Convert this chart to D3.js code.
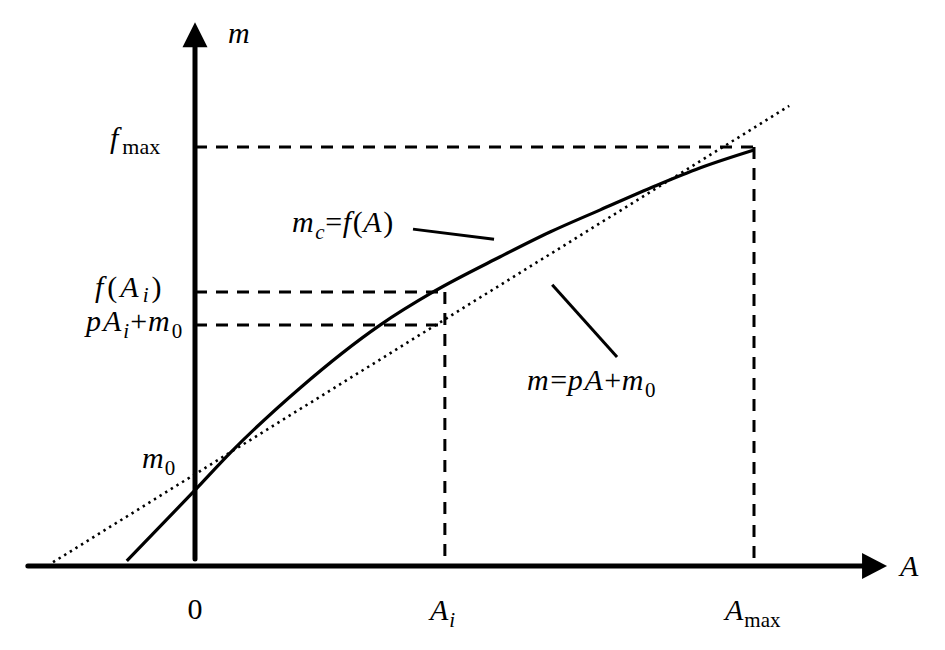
<!DOCTYPE html>
<html>
<head>
<meta charset="utf-8">
<script src="https://cdn.jsdelivr.net/npm/d3@7"></script>
<style>
  html, body { margin: 0; padding: 0; background: #fff; }
  svg { display: block; }
</style>
</head>
<body>
<svg id="chart" width="945" height="650"></svg>
<script>
// ---- data (in A / m units) ----
const curveA = [-1.22, 0, 0.63, 1.88, 3.31, 4.26, 5.46, 6.35, 7.25, 8.23, 9.03, 10];
const curveM = [0.12, 1.81, 2.70, 4.25, 5.75, 6.54, 7.38, 7.97, 8.50, 9.07, 9.50, 9.93];
const lineA = [-2.54, 10.63];
const lineM = [0.09, 10.98];
const markA = [4.47, 10];          // A_i, A_max
const markM = [6.54, 5.75, 10];    // f(A_i), pA_i+m0, f_max
const m0 = 2.19;
const axisA = [-2.99, 12.38];      // x axis extent (arrow tip at end)
const axisM = [0.17, 12.98];       // y axis extent (arrow tip at end)

const svg = d3.select("#chart");
const x = d3.scaleLinear().domain([0, 10]).range([195, 754]);
const y = d3.scaleLinear().domain([0, 10]).range([566, 147]);

// dashed guide lines
const dash = "12,9";
const g = svg.append("g");
[[markM[0], markA[0]], [markM[1], markA[0]], [markM[2], markA[1]]].forEach(([m, a]) => {
  g.append("line").attr("x1", x(0)).attr("x2", x(a)).attr("y1", y(m)).attr("y2", y(m))
    .attr("stroke", "#000").attr("stroke-width", 3).attr("stroke-dasharray", dash);
});
[[markA[0], markM[0]], [markA[1], markM[2]]].forEach(([a, m]) => {
  g.append("line").attr("x1", x(a)).attr("x2", x(a)).attr("y1", y(m)).attr("y2", y(0) - 6)
    .attr("stroke", "#000").attr("stroke-width", 3).attr("stroke-dasharray", dash);
});

// dotted linear line
svg.append("line")
  .attr("x1", x(lineA[0])).attr("y1", y(lineM[0]))
  .attr("x2", x(lineA[1])).attr("y2", y(lineM[1]))
  .attr("stroke", "#000").attr("stroke-width", 2.6).attr("stroke-dasharray", "2.4,4.2");

// curve
const pts = curveA.map((a, i) => [a, curveM[i]]);
svg.append("path")
  .attr("d", d3.line().x(d => x(d[0])).y(d => y(d[1])).curve(d3.curveMonotoneX)(pts))
  .attr("fill", "none").attr("stroke", "#000").attr("stroke-width", 3.2);

// axes
svg.append("line").attr("x1", x(axisA[0])).attr("x2", x(axisA[1]) - 20)
  .attr("y1", y(0)).attr("y2", y(0)).attr("stroke", "#000").attr("stroke-width", 5)
  .attr("stroke-linecap", "round");
svg.append("path")
  .attr("d", `M${x(axisA[1])},${y(0)} L${x(axisA[1]) - 25},${y(0) - 13} L${x(axisA[1]) - 25},${y(0) + 13} Z`)
  .attr("fill", "#000");
svg.append("line").attr("x1", x(0)).attr("x2", x(0))
  .attr("y1", y(axisM[0])).attr("y2", y(axisM[1]) + 20)
  .attr("stroke", "#000").attr("stroke-width", 5).attr("stroke-linecap", "round");
svg.append("path")
  .attr("d", `M${x(0)},${y(axisM[1])} L${x(0) - 12.5},${y(axisM[1]) + 25} L${x(0) + 12.5},${y(axisM[1]) + 25} Z`)
  .attr("fill", "#000");

// leader lines
const leaders = [
  [[3.9, 8.04], [5.35, 7.80]],
  [[6.39, 6.71], [7.55, 4.99]]
];
leaders.forEach(([p, q]) => {
  svg.append("line").attr("x1", x(p[0])).attr("y1", y(p[1])).attr("x2", x(q[0])).attr("y2", y(q[1]))
    .attr("stroke", "#000").attr("stroke-width", 3);
});

// labels: parts [text, italic, sub]; each part is its own <text>
const FS = 30, SFS = 21;
function label(px, py, parts, opts) {
  opts = opts || {};
  const drop = opts.drop || 7, gap = opts.gap || 0, sfs = opts.sfs || SFS;
  const grp = svg.append("g");
  let cx = 0;
  parts.forEach(([s, it, sub], k) => {
    const t = grp.append("text").attr("x", cx).attr("y", sub ? drop : 0)
      .attr("font-size", sub ? sfs : FS)
      .style("font-family", '"Liberation Serif"')
      .style("font-style", it ? "italic" : "normal")
      .attr("fill", "#000").text(s);
    let w = 0;
    try { w = t.node().getComputedTextLength(); } catch (e) { w = 0; }
    if (!w) w = s.length * (sub ? sfs : FS) * 0.5;
    cx += w + (it && !sub ? 1 : 0) + (k < parts.length - 1 ? gap : 0);
  });
  const off = opts.anchor === "middle" ? -cx / 2 : 0;
  grp.attr("transform", `translate(${px + off},${py})`);
  return grp;
}
label(228, 43, [["m", true]]);
label(110, 148, [["f", true], ["max", false, true]], { drop: 6, gap: 3, sfs: 22 });
label(95, 297, [["f", true], ["(", false], ["A", true], ["i", true, true], [")", false]], { drop: 5, gap: 3 });
label(86, 331, [["p", true], ["A", true], ["i", true, true], ["+", false], ["m", true], ["0", false, true]], { gap: 1 });
label(142, 468, [["m", true], ["0", false, true]]);
label(195, 619, [["0", false]], { anchor: "middle" });
label(430, 620, [["A", true], ["i", true, true]]);
label(725, 620, [["A", true], ["max", false, true]]);
label(900, 576, [["A", true]]);
label(292, 232, [["m", true], ["c", true, true], ["=", false], ["f", true], ["(", false], ["A", true], [")", false]], { gap: 0.6 });
label(527, 390, [["m", true], ["=", false], ["p", true], ["A", true], ["+", false], ["m", true], ["0", false, true]], { gap: 0.6 });
</script>
</body>
</html>
